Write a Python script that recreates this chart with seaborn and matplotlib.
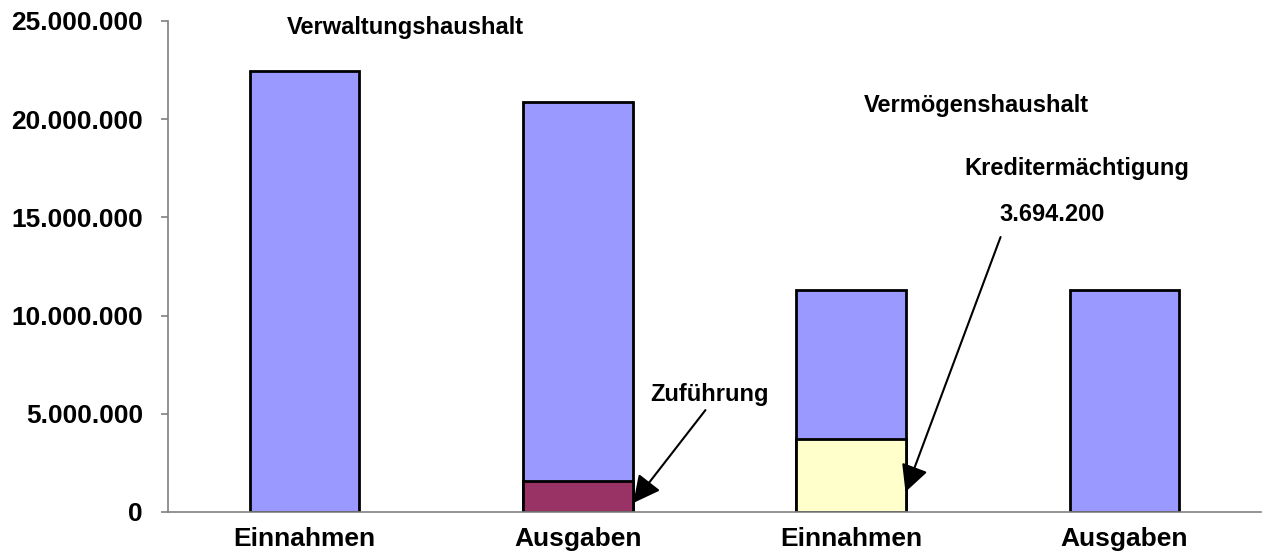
import numpy as np
import pandas as pd
import matplotlib
matplotlib.use("Agg")
import matplotlib.pyplot as plt
import matplotlib.ticker as mticker
import seaborn as sns

# values
keys = ["VwH_E", "VwH_A", "VmH_E", "VmH_A"]
labels = ["Einnahmen", "Ausgaben", "Einnahmen", "Ausgaben"]
totals = [22450000, 20900000, 11300000, 11300000]
bottoms = [0, 1600000, 3694200, 0]
bottom_colors = ["#9999FF", "#993366", "#FFFFCC", "#9999FF"]

sns.set_style("white")
plt.rcParams["font.family"] = ["Liberation Sans", "DejaVu Sans"]
plt.rcParams["font.weight"] = "bold"
plt.rcParams["text.color"] = "black"

df = pd.DataFrame({"key": keys, "total": totals, "bottom": bottoms})

fig = plt.figure(figsize=(12.64, 5.57), dpi=100)
ax = fig.add_axes([0.1329, 0.0808, 0.8647, 0.8815])

# full bars first, the lower segments drawn over them
sns.barplot(data=df, x="key", y="total", order=keys, color="#9999FF",
            saturation=1, width=0.40, edgecolor="black", linewidth=2, ax=ax)
sns.barplot(data=df[df["bottom"] > 0], x="key", y="bottom", order=keys,
            hue="key", palette=dict(zip(keys, bottom_colors)), legend=False,
            saturation=1, width=0.40, edgecolor="black", linewidth=2, ax=ax)

ax.set_xlim(-0.5, 3.5)
ax.set_ylim(0, 25000000)
ax.set_xlabel("")
ax.set_ylabel("")

ax.yaxis.set_major_locator(mticker.MultipleLocator(5000000))
ax.yaxis.set_major_formatter(mticker.FuncFormatter(lambda v, p: f"{int(v):,}".replace(",", ".")))

# tick marks between the categories, labels under the bars
ax.set_xticks(np.arange(-0.5, 4, 1))
ax.set_xticklabels([])
ax.set_xticks(range(4), minor=True)
ax.set_xticklabels(labels, minor=True)
ax.tick_params(axis="x", which="major", length=7, color="#808080", width=1.2, direction="out")
ax.tick_params(axis="x", which="minor", length=0, pad=11, labelsize=19, labelcolor="black")
ax.tick_params(axis="y", length=5, color="#808080", width=1.2, direction="out", pad=13,
               labelsize=19, labelcolor="black", left=True)

for s in ["top", "right"]:
    ax.spines[s].set_visible(False)
for s in ["left", "bottom"]:
    ax.spines[s].set_color("#808080")
    ax.spines[s].set_linewidth(1.2)

txt = dict(fontsize=17, fontweight="bold", ha="center", va="center", color="black")
ax.text(0.37, 24650000, "Verwaltungshaushalt", **txt)
ax.text(2.46, 20720000, "Vermögenshaushalt", **txt)
ax.text(2.826, 17500000, "Kreditermächtigung", **txt)
ax.text(2.734, 15170000, "3.694.200", **txt)
ax.text(1.481, 6000000, "Zuführung", **txt)

arrow = dict(arrowstyle="-|>,head_length=0.55,head_width=0.28", color="black", lw=1.5,
             mutation_scale=30, shrinkA=0, shrinkB=0)
ax.annotate("", xy=(1.203, 460000), xytext=(1.467, 5190000), arrowprops=arrow)
ax.annotate("", xy=(2.199, 1020000), xytext=(2.547, 14000000), arrowprops=arrow)

fig.savefig("out.png", dpi=100)
